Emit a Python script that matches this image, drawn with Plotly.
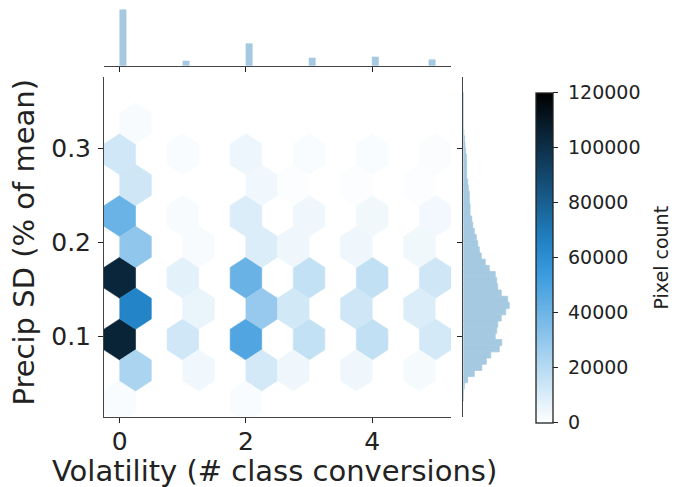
import colorsys
import math

import numpy as np
import plotly.graph_objects as go
from plotly.colors import sample_colorscale

# ---------------------------------------------------------------------------
# Data
# ---------------------------------------------------------------------------
# Extent of the binned data (volatility on x, precip SD on y)
vol_min, vol_max = 0.0, 5.0
sd_min, sd_max = 0.031, 0.3595
grid_nx, grid_ny = 10, 5

volatility_classes = [0, 1, 2, 3, 4, 5]

# Pixel counts per hexagon, rows ordered from low to high precip SD.
# Lattice A: hexagons centred on the bin rows (ny + 1 rows)
counts_lattice_a = {
    0: [1900, 105000, 104000, 41000, 13000, 0],
    1: [0, 13000, 7600, 2100, 1700, 0],
    2: [1600, 48000, 41500, 10000, 4800, 0],
    3: [0, 16500, 16500, 4300, 1700, 0],
    4: [0, 16800, 17000, 3900, 1700, 0],
    5: [0, 12000, 13400, 3600, 1500, 0],
}
# Lattice B: hexagons offset by half a bin in both directions (ny rows)
counts_lattice_b = {
    0: [23300, 65000, 30400, 13500, 2300],
    1: [3800, 6000, 2300, 0, 0],
    2: [12000, 29000, 10000, 3800, 0],
    3: [4200, 12500, 4300, 1200, 0],
    4: [4200, 13500, 4300, 1200, 0],
    5: [2800, 9800, 4000, 1200, 0],
}

# Marginal density of volatility (one value per class)
vol_density = [5.33, 0.44, 2.10, 0.73, 0.83, 0.57]

# Marginal density of precip SD, 50 equal bins from sd_min to sd_max
sd_density = [
    0.0, 0.05, 0.2, 0.87, 2.2, 3.7, 4.6, 5.5, 7.2, 7.7,
    6.4, 6.7, 6.9, 7.6, 8.5, 9.2, 8.9, 7.6, 6.9, 6.7,
    6.4, 5.2, 4.4, 3.6, 3.2, 2.9, 2.6, 2.2, 1.9, 1.7,
    1.35, 1.35, 1.2, 1.2, 1.0, 0.87, 0.67, 0.67, 0.67, 0.6,
    0.47, 0.34, 0.25, 0.1, 0.0, 0.0, 0.0, 0.0, 0.0, 0.0,
]

count_ticks = [0, 20000, 40000, 60000, 80000, 100000, 120000]

# ---------------------------------------------------------------------------
# Styling
# ---------------------------------------------------------------------------
W, H = 676, 487
FONT = "DejaVu Sans"
TXT = "#222222"
AXC = "#444444"
HIST = "#a5c9e1"
BASE_RGB = (31 / 255, 119 / 255, 180 / 255)
NBSP = "\u00a0"

# colour ramp: base hue/saturation swept from white through blue to black
h_, l_, s_ = colorsys.rgb_to_hls(*BASE_RGB)
ramp = []
for i, lv in enumerate(np.linspace(1, 0, 12)):
    r, g, b = colorsys.hls_to_rgb(h_, lv, s_)
    r, g, b = [min(max(c, 0), 1) for c in (r, g, b)]
    ramp.append([i / 11, f"rgb({round(r*255)},{round(g*255)},{round(b*255)})"])
cmax = count_ticks[-1]


def px_x(p):
    return p / W


def px_y(p):
    return (H - p) / H


# axes placement (pixels)
main_l, main_r, main_t, main_b = 104, 451, 77, 416.7
top_t, top_b = 7, 65.7
side_l, side_r = 463.3, 511.5
cbar_t, cbar_b = 92.3, 422.7

# ---------------------------------------------------------------------------
# Hexagon lattice (same construction as matplotlib's hexbin)
# ---------------------------------------------------------------------------
pad_x = 1e-9 * (vol_max - vol_min)
pad_y = 1e-9 * (sd_max - sd_min)
xmin_p, xmax_p = vol_min - pad_x, vol_max + pad_x
ymin_p, ymax_p = sd_min - pad_y, sd_max + pad_y
sx = (xmax_p - xmin_p) / grid_nx
sy = (ymax_p - ymin_p) / grid_ny
hex_dx = [0.5, 0.5, 0, -0.5, -0.5, 0, 0.5]
hex_dy = [-0.5, 0.5, 1, 0.5, -0.5, -1, -0.5]

fig = go.Figure()


def add_hex(cx, cy, n):
    if n <= 0:
        return
    col = sample_colorscale(ramp, [n / cmax])[0]
    fig.add_trace(go.Scatter(
        x=[cx + d * sx for d in hex_dx],
        y=[cy + d * sy / 3 for d in hex_dy],
        mode="lines", fill="toself", fillcolor=col,
        line=dict(color=col, width=0.6),
        hoverinfo="skip", showlegend=False,
        xaxis="x", yaxis="y",
    ))


for k in volatility_classes:
    ix = (k - xmin_p) / sx
    ix1 = round(ix)
    ix2 = math.floor(ix)
    for j, n in enumerate(counts_lattice_a[k]):
        add_hex(xmin_p + ix1 * sx, ymin_p + j * sy, n)
    for j, n in enumerate(counts_lattice_b[k]):
        add_hex(xmin_p + (ix2 + 0.5) * sx, ymin_p + (j + 0.5) * sy, n)

# colour bar carrier
fig.add_trace(go.Scatter(
    x=[None], y=[None], mode="markers", showlegend=False, hoverinfo="skip",
    marker=dict(
        color=[0], cmin=0, cmax=cmax, colorscale=ramp, showscale=True,
        colorbar=dict(
            x=px_x(536), xanchor="left", xpad=0,
            y=px_y(cbar_b), yanchor="bottom", ypad=0,
            len=(cbar_b - cbar_t) / H, lenmode="fraction",
            thickness=17, outlinewidth=1.3, outlinecolor=TXT,
            tickvals=count_ticks,
            ticktext=[NBSP + str(v) for v in count_ticks],
            ticks="outside", ticklen=5, tickwidth=1, tickcolor=TXT,
            tickfont=dict(family=FONT, size=19, color=TXT),
        ),
    ),
    xaxis="x", yaxis="y",
))

# ---------------------------------------------------------------------------
# Marginal histograms
# ---------------------------------------------------------------------------
vol_edges = np.linspace(vol_min, vol_max, 51)
vol_bw = vol_edges[1] - vol_edges[0]
vol_bin = np.clip(np.searchsorted(vol_edges, volatility_classes, side="right") - 1, 0, 49)
vol_centres = vol_edges[vol_bin] + vol_bw / 2
fig.add_trace(go.Bar(
    x=vol_centres, y=vol_density, width=vol_bw,
    marker=dict(color=HIST, line=dict(width=0.6, color=HIST)),
    xaxis="x2", yaxis="y2", hoverinfo="skip", showlegend=False,
))

sd_edges = np.linspace(sd_min, sd_max, len(sd_density) + 1)
sd_bw = sd_edges[1] - sd_edges[0]
sd_centres = sd_edges[:-1] + sd_bw / 2
fig.add_trace(go.Bar(
    y=sd_centres, x=sd_density, width=sd_bw, orientation="h",
    marker=dict(color=HIST, line=dict(width=0.8, color=HIST)),
    xaxis="x3", yaxis="y3", hoverinfo="skip", showlegend=False,
))

# ---------------------------------------------------------------------------
# Axes
# ---------------------------------------------------------------------------
x_rng = [vol_min - 0.05 * (vol_max - vol_min), vol_max + 0.05 * (vol_max - vol_min)]
y_rng = [sd_min - 0.05 * (sd_max - sd_min), sd_max + 0.05 * (sd_max - sd_min)]

axis_common = dict(showgrid=False, zeroline=False, showline=True,
                   linecolor=AXC, linewidth=1, ticks="outside", ticklen=5,
                   tickwidth=1, tickcolor=TXT)

fig.update_layout(
    width=W, height=H,
    margin=dict(l=0, r=0, t=0, b=0),
    paper_bgcolor="white", plot_bgcolor="white",
    font=dict(family=FONT, color=TXT),
    showlegend=False,
    xaxis=dict(domain=[px_x(main_l), px_x(main_r)], range=x_rng,
               tickvals=[0, 2, 4], ticktext=["0", "2", "4"],
               tickfont=dict(size=25, color=TXT), anchor="y",
               ticklabelstandoff=-3, **axis_common),
    yaxis=dict(domain=[px_y(main_b), px_y(main_t)], range=y_rng,
               tickvals=[0.1, 0.2, 0.3], ticktext=["0.1", "0.2", "0.3"],
               tickfont=dict(size=25, color=TXT), anchor="x",
               ticklabelstandoff=2, **axis_common),
    xaxis2=dict(domain=[px_x(main_l), px_x(main_r)], range=x_rng,
                matches="x", anchor="y2", tickvals=[0, 2, 4],
                showticklabels=False, **axis_common),
    yaxis2=dict(domain=[px_y(top_b), px_y(top_t)],
                range=[0, max(vol_density) * 1.05], anchor="x2",
                visible=False),
    xaxis3=dict(domain=[px_x(side_l), px_x(side_r)],
                range=[0, max(sd_density) * 1.05], anchor="y3",
                visible=False),
    yaxis3=dict(domain=[px_y(main_b), px_y(main_t)], range=y_rng,
                matches="y", anchor="x3", tickvals=[0.1, 0.2, 0.3],
                showticklabels=False, **axis_common),
    annotations=[
        dict(text="Volatility (# class conversions)", xref="paper",
             yref="paper", x=px_x(274), y=px_y(471),
             xanchor="center", yanchor="middle", showarrow=False,
             font=dict(family=FONT, size=29, color=TXT)),
        dict(text="Precip SD (% of mean)", xref="paper", yref="paper",
             x=px_x(23), y=px_y(242.5), textangle=-90,
             xanchor="center", yanchor="middle", showarrow=False,
             font=dict(family=FONT, size=29, color=TXT)),
        dict(text="Pixel count", xref="paper", yref="paper",
             x=px_x(660), y=px_y((cbar_t + cbar_b) / 2), textangle=-90,
             xanchor="center", yanchor="middle", showarrow=False,
             font=dict(family=FONT, size=19, color=TXT)),
    ],
)

fig.write_html("out.html")
